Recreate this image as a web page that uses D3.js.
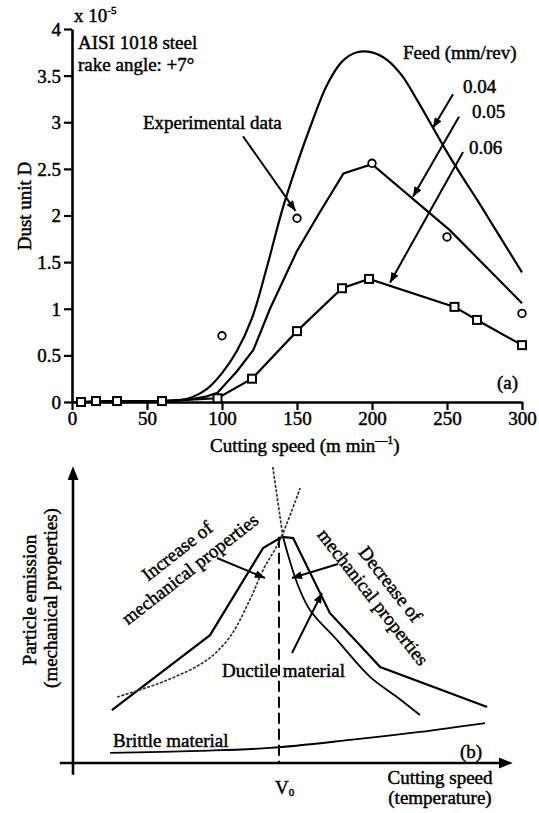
<!DOCTYPE html>
<html><head><meta charset="utf-8">
<script src="https://cdn.jsdelivr.net/npm/d3@7"></script>
<style>
body{margin:0;background:#fff}
text{font-family:"Liberation Serif","Times New Roman",serif;fill:#000;font-size:19px;stroke:#000;stroke-width:0.45px}
</style>
</head><body>
<svg id="c" width="539" height="813"></svg>
<script>
// ---------- Panel (a) data ----------
const speedTicks = [0, 50, 100, 150, 200, 250, 300];
const dustTicks = [0, 0.5, 1, 1.5, 2, 2.5, 3, 3.5, 4];
const feedLabels = ["0.04", "0.05", "0.06"];

// feed 0.04 (smooth model curve)
const speed004 = [0, 50, 70, 80, 90, 100, 110, 120, 130, 140, 150, 160, 170, 180, 190, 200, 210, 220, 230, 240, 250, 260, 270, 280, 290, 300];
const dust004  = [0, 0, 0.01, 0.05, 0.14, 0.31, 0.55, 0.9, 1.45, 2.05, 2.55, 3.0, 3.4, 3.65, 3.75, 3.75, 3.67, 3.5, 3.24, 2.96, 2.68, 2.42, 2.17, 1.91, 1.65, 1.39];
// feed 0.05
const speed005 = [0, 60, 80, 90, 97, 110, 121, 132, 150, 165, 181, 200, 252, 300];
const dust005  = [0, 0.01, 0.03, 0.06, 0.1, 0.33, 0.56, 1.0, 1.62, 2.03, 2.45, 2.55, 1.84, 1.06];
// feed 0.06 (squares)
const speed006 = [6, 16, 30, 60, 97, 120, 150, 180, 198, 255, 270, 300];
const dust006  = [0, 0.01, 0.01, 0.01, 0.04, 0.25, 0.76, 1.22, 1.32, 1.02, 0.88, 0.61];
// experimental data (circles)
const speedExp = [100, 150, 200, 250, 300];
const dustExp  = [0.71, 1.97, 2.56, 1.77, 0.95];

// ---------- Panel (b) schematic data (relative units 0-100) ----------
const ductileX = [8.8, 31.0, 43.0, 47.3, 49.8, 58.1, 69.5, 93.7];
const ductileY = [17.9, 43.2, 72.6, 76.4, 76.0, 50.7, 32.4, 18.9];
const increaseX = [10, 21.3, 30.3, 35.5, 40.0, 43.0, 46.8, 51.4];
const increaseY = [22.3, 28.0, 34.8, 42.6, 55.1, 65.2, 75.3, 92.9];
const decreaseX = [45.2, 47.5, 50.7, 53.6, 59.7, 67.2, 73.3, 78.5];
const decreaseY = [100, 76.4, 60.8, 51.7, 41.6, 29.1, 22.3, 16.2];
const brittleX = [8.4, 28.7, 44.6, 62.7, 78.5, 93.2];
const brittleY = [3.4, 4.1, 5.1, 7.8, 10.5, 13.5];
const v0 = 46.6;

const svg = d3.select("#c");
const defs = svg.append("defs");
defs.append("marker").attr("id","ah").attr("viewBox","0 0 10 8").attr("refX",10).attr("refY",4)
  .attr("markerWidth",11).attr("markerHeight",8).attr("markerUnits","userSpaceOnUse").attr("orient","auto")
  .append("path").attr("d","M0,0L10,4L0,8z").attr("fill","#000");
defs.append("marker").attr("id","axh").attr("viewBox","0 0 10 8").attr("refX",2).attr("refY",4)
  .attr("markerWidth",14).attr("markerHeight",11).attr("markerUnits","userSpaceOnUse").attr("orient","auto")
  .append("path").attr("d","M0,0L10,4L0,8z").attr("fill","#000");

// ================= Panel (a) =================
const x = d3.scaleLinear().domain([0, 300]).range([72, 522]);
const y = d3.scaleLinear().domain([0, 4]).range([402, 29]);
const fmt = d3.format("~g");

const gy = svg.append("g").attr("transform", `translate(${x(0)},0)`)
  .call(d3.axisLeft(y).tickValues(dustTicks).tickSize(8).tickSizeOuter(0).tickPadding(3).tickFormat(fmt));
const gx = svg.append("g").attr("transform", `translate(0,${y(0)})`)
  .call(d3.axisBottom(x).tickValues(speedTicks).tickSize(8).tickSizeOuter(0).tickPadding(2).tickFormat(fmt));
[gx, gy].forEach(g => {
  g.attr("font-family", null).attr("font-size", null);
  g.select(".domain").attr("stroke-width", 2.6);
  g.selectAll(".tick line").attr("stroke-width", 2.2);
  g.selectAll(".tick text").attr("fill", "#000");
});
gy.selectAll(".tick text").attr("dy", "0.34em");

const line = d3.line().x(d => x(d[0])).y(d => y(d[1]));
const smooth = d3.line().x(d => x(d[0])).y(d => y(d[1])).curve(d3.curveCatmullRom.alpha(0.5));
const zip = (a, b) => a.map((v, i) => [v, b[i]]);

svg.append("path").attr("d", smooth(zip(speed004, dust004))).attr("fill","none").attr("stroke","#000").attr("stroke-width",2.2);
svg.append("path").attr("d", line(zip(speed005, dust005))).attr("fill","none").attr("stroke","#000").attr("stroke-width",2.2);
svg.append("path").attr("d", line(zip(speed006, dust006))).attr("fill","none").attr("stroke","#000").attr("stroke-width",2.2);

svg.selectAll(".sq").data(zip(speed006, dust006)).enter().append("rect")
  .attr("x", d => x(d[0]) - 4).attr("y", d => y(d[1]) - 4).attr("width", 8).attr("height", 8)
  .attr("fill", "#fff").attr("stroke", "#000").attr("stroke-width", 2);
svg.selectAll(".ci").data(zip(speedExp, dustExp)).enter().append("circle")
  .attr("cx", d => x(d[0])).attr("cy", d => y(d[1])).attr("r", 3.8)
  .attr("fill", "#fff").attr("stroke", "#000").attr("stroke-width", 1.8);

// texts panel a
const T = (px, py, s, opts={}) => {
  const t = svg.append("text").attr("x", px).attr("y", py).text(s);
  if (opts.anchor) t.attr("text-anchor", opts.anchor);
  if (opts.rot !== undefined) t.attr("transform", `rotate(${opts.rot},${px},${py})`);
  if (opts.size) t.style("font-size", opts.size + "px");
  return t;
};
const xt = T(74, 22, "x 10");
xt.append("tspan").attr("dy", -8).style("font-size", "11px").text("-5");
T(x(4), y(3.79), "AISI 1018 steel");
T(x(4), y(3.55), "rake angle: +7°");
T(x(220.7), y(3.68), "Feed (mm/rev)");
T(x(260.7), y(3.31), feedLabels[0]);
T(x(266.7), y(3.05), feedLabels[1]);
T(x(264.7), y(2.66), feedLabels[2]);
T(x(47.3), y(2.93), "Experimental data");
T(x(283.3), y(0.14), "(a)");
T(31, 206, "Dust unit D", {anchor: "middle", rot: -90});
const xl = T(210, 452, "Cutting speed (m min");
xl.append("tspan").attr("dy", -8).style("font-size", "12px").text("\u2014").append("tspan").text("1");
xl.append("tspan").attr("dy", 8).text(")");

const arrow = (x1, y1, x2, y2, w=2) => svg.append("line").attr("x1", x1).attr("y1", y1).attr("x2", x2).attr("y2", y2)
  .attr("stroke", "#000").attr("stroke-width", w).attr("marker-end", "url(#ah)");
arrow(x(254), y(3.30), x(240.7), y(2.94));
arrow(x(258), y(3.06), x(227.3), y(2.20));
arrow(x(260.7), y(2.68), x(212), y(1.28));
arrow(x(114), y(2.85), x(149), y(2.05));

// ================= Panel (b) =================
const xB = d3.scaleLinear().domain([0, 100]).range([73, 515]);
const yB = d3.scaleLinear().domain([0, 100]).range([763, 467]);
svg.append("line").attr("x1", xB(0)).attr("y1", yB(-4)).attr("x2", xB(0)).attr("y2", yB(96.5))
  .attr("stroke", "#000").attr("stroke-width", 2.6).attr("marker-end", "url(#axh)");
svg.append("line").attr("x1", xB(-3)).attr("y1", yB(0)).attr("x2", xB(97)).attr("y2", yB(0))
  .attr("stroke", "#000").attr("stroke-width", 2.6).attr("marker-end", "url(#axh)");

const lineB = d3.line().x(d => xB(d[0])).y(d => yB(d[1]));
const smoothB = d3.line().x(d => xB(d[0])).y(d => yB(d[1])).curve(d3.curveCatmullRom);

svg.append("path").attr("d", lineB(zip(ductileX, ductileY))).attr("fill","none").attr("stroke","#000").attr("stroke-width",2.2);
svg.append("path").attr("d", smoothB(zip(increaseX, increaseY))).attr("fill","none").attr("stroke","#333")
  .attr("stroke-width",1.7).attr("stroke-dasharray","3,1.5");
const decr = zip(decreaseX, decreaseY);
svg.append("path").attr("d", lineB(decr.slice(0, 2))).attr("fill","none").attr("stroke","#333")
  .attr("stroke-width",1.7).attr("stroke-dasharray","3,1.5");
svg.append("path").attr("d", smoothB(decr.slice(1))).attr("fill","none").attr("stroke","#000").attr("stroke-width",1.8);
svg.append("path").attr("d", smoothB(zip(brittleX, brittleY))).attr("fill","none").attr("stroke","#000").attr("stroke-width",1.8);
svg.append("line").attr("x1", xB(v0)).attr("x2", xB(v0)).attr("y1", yB(76.4)).attr("y2", yB(0))
  .attr("stroke","#000").attr("stroke-width",2).attr("stroke-dasharray","11,5");

T(113, 747, "Brittle material");
T(222, 677, "Ductile material");
T(460, 758, "(b)");
const vt = T(275, 794, "V");
vt.append("tspan").attr("dy", 2).style("font-size", "11px").text("0");
T(440, 784, "Cutting speed", {anchor: "middle"});
T(440, 804, "(temperature)", {anchor: "middle"});
T(36, 600, "Particle emission", {anchor: "middle", rot: -90});
T(57, 598, "(mechanical properties)", {anchor: "middle", rot: -90});
T(181, 556, "Increase of", {anchor: "middle", rot: -38});
T(194, 574, "mechanical properties", {anchor: "middle", rot: -38});
T(385.5, 588, "Decrease of", {anchor: "middle", rot: 52});
T(368, 601, "mechanical properties", {anchor: "middle", rot: 52});

arrow(217, 558, 265, 578);
arrow(338, 564, 292, 578);
arrow(292, 653, 322, 593);
</script>
</body></html>
